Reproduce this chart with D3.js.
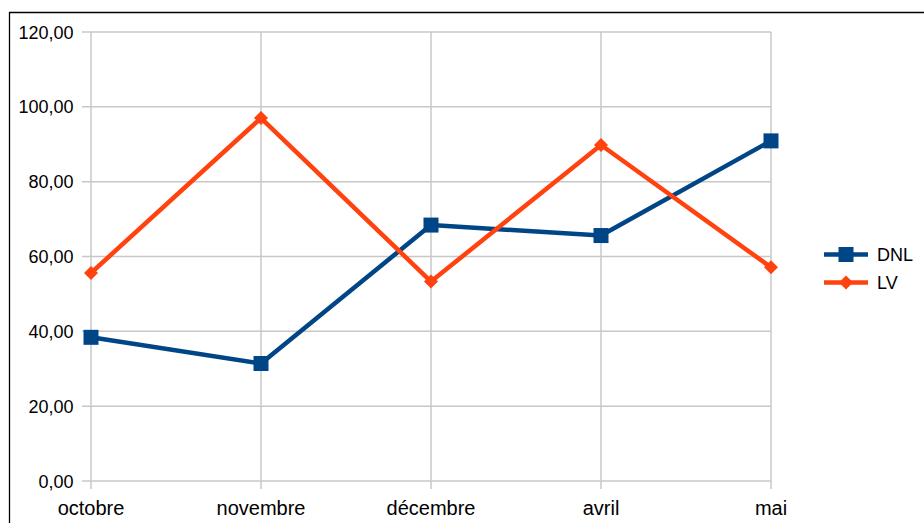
<!DOCTYPE html>
<html>
<head>
<meta charset="utf-8">
<script src="https://cdn.jsdelivr.net/npm/d3@7"></script>
<style>
  html, body { margin: 0; padding: 0; background: #fff; }
  svg { display: block; }
  text { font-family: "Liberation Sans", Arial, sans-serif; fill: #000; }
</style>
</head>
<body>
<svg id="chart" width="924" height="523"></svg>
<script>
// Monthly values for the two series
const months = ["octobre", "novembre", "décembre", "avril", "mai"];
const dnl = [38.4, 31.4, 68.4, 65.6, 90.9];
const lv = [55.6, 97.0, 53.3, 89.8, 57.1];
const yTicks = [0, 20, 40, 60, 80, 100, 120];
const seriesNames = ["DNL", "LV"];
const seriesColors = ["#004586", "#ff420e"];

const svg = d3.select("#chart");
const plotLeft = 91, plotRight = 771, plotTop = 32, plotBottom = 481;

const x = d3.scalePoint().domain(months).range([plotLeft, plotRight]);
const y = d3.scaleLinear().domain([0, 120]).range([plotBottom, plotTop]);
const fmt = v => d3.format(".2f")(v).replace(".", ",");

// Frame lines (top and left)
svg.append("line").attr("x1", 9).attr("x2", 924).attr("y1", 12.5).attr("y2", 12.5)
  .attr("stroke", "#000").attr("stroke-width", 1.3);
svg.append("line").attr("x1", 9.5).attr("x2", 9.5).attr("y1", 12).attr("y2", 523)
  .attr("stroke", "#000").attr("stroke-width", 1.3);

const grid = svg.append("g").attr("stroke", "#c8c8c8").attr("stroke-width", 1.5);
// Horizontal gridlines with left ticks
yTicks.forEach(t => {
  grid.append("line").attr("x1", 82).attr("x2", plotRight).attr("y1", y(t)).attr("y2", y(t));
});
// Vertical gridlines with bottom ticks
months.forEach(m => {
  grid.append("line").attr("x1", x(m)).attr("x2", x(m)).attr("y1", plotTop).attr("y2", 489);
});

// Y axis labels
svg.append("g").selectAll("text").data(yTicks).join("text")
  .attr("x", 73.5).attr("y", d => y(d) + 6.5)
  .attr("font-size", 18)
  .attr("text-anchor", "end").text(fmt);

// X axis labels
svg.append("g").selectAll("text").data(months).join("text")
  .attr("x", d => x(d)).attr("y", 515)
  .attr("font-size", 20)
  .attr("text-anchor", "middle").text(d => d);

const line = d3.line().x((d, i) => x(months[i])).y(d => y(d));
const series = [dnl, lv];

series.forEach((vals, si) => {
  svg.append("path").datum(vals).attr("d", line)
    .attr("fill", "none").attr("stroke", seriesColors[si])
    .attr("stroke-width", 4.5).attr("stroke-linejoin", "round");
});

function marker(g, si, cx, cy) {
  if (si === 0) {
    g.append("rect").attr("x", cx - 7.5).attr("y", cy - 7.5)
      .attr("width", 15).attr("height", 15).attr("fill", seriesColors[0]);
  } else {
    const s = 7;
    g.append("path").attr("d", `M${cx},${cy - s}L${cx + s},${cy}L${cx},${cy + s}L${cx - s},${cy}Z`)
      .attr("fill", seriesColors[1]);
  }
}

const marks = svg.append("g");
series.forEach((vals, si) => {
  vals.forEach((v, i) => marker(marks, si, x(months[i]), y(v)));
});

// Legend
const legend = svg.append("g");
seriesNames.forEach((name, si) => {
  const ly = 254.5 + si * 28;
  legend.append("line").attr("x1", 824).attr("x2", 868).attr("y1", ly).attr("y2", ly)
    .attr("stroke", seriesColors[si]).attr("stroke-width", 4.5);
  marker(legend, si, 846, ly);
  legend.append("text").attr("x", 877).attr("y", ly + 6.5)
    .attr("font-size", 18).text(name);
});
</script>
</body>
</html>
